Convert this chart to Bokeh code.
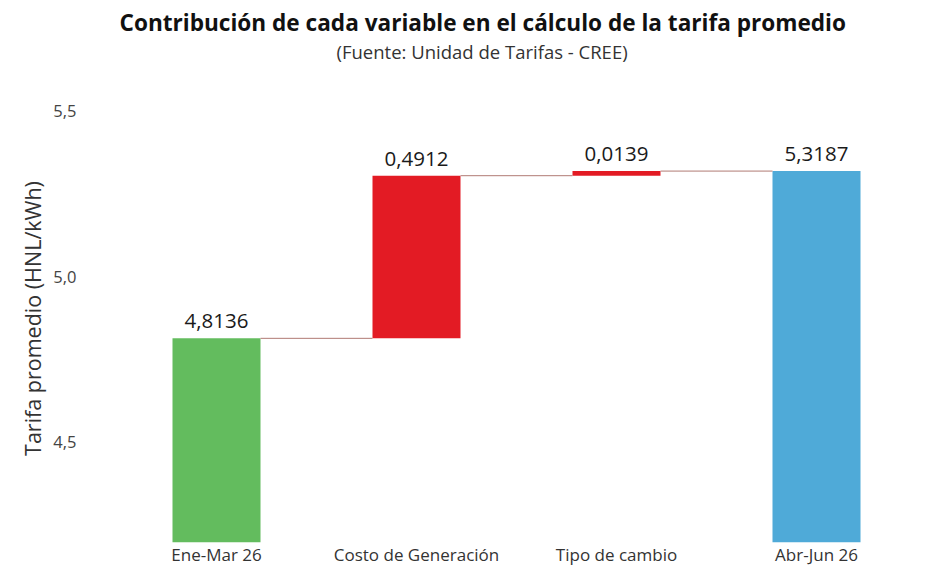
from bokeh.plotting import figure
from bokeh.models import ColumnDataSource, FixedTicker, Title
from bokeh.transform import dodge
from bokeh.embed import file_html
from bokeh.resources import INLINE

# ---- data ----
categories = ["Ene-Mar 26", "Costo de Generación", "Tipo de cambio", "Abr-Jun 26"]
values = [4.8136, 0.4912, 0.0139, 5.3187]
kinds = ["total", "delta", "delta", "total"]
value_labels = ["4,8136", "0,4912", "0,0139", "5,3187"]
colors = ["#63bc5e", "#e31b24", "#e31b24", "#4faad8"]
y_ticks = [4.5, 5.0, 5.5]
y_tick_labels = ["4,5", "5,0", "5,5"]
y_start, y_end = 4.197, 5.55

# ---- waterfall geometry from data ----
bottoms, tops = [], []
running = 0.0
for v, k in zip(values, kinds):
    if k == "total":
        bottoms.append(y_start)
        tops.append(v)
        running = v
    else:
        bottoms.append(running)
        running = running + v
        tops.append(running)

src = ColumnDataSource(dict(cat=categories, bottom=bottoms, top=tops,
                            color=colors, label=value_labels))
conn = ColumnDataSource(dict(a=categories[:-1], b=categories[1:],
                             y=[tops[i] for i in range(len(categories) - 1)]))

FONT = "Open Sans"
p = figure(x_range=categories, y_range=(y_start, y_end), width=940, height=576,
           output_backend="svg", toolbar_location=None, min_border=0,
           min_border_left=116, min_border_right=24, min_border_bottom=34, min_border_top=0)
p.x_range.range_padding = 0

bar_w = 0.44
p.vbar(x="cat", bottom="bottom", top="top", width=bar_w, color="color",
       line_color=None, source=src)
p.segment(x0=dodge("a", bar_w / 2, range=p.x_range), x1=dodge("b", -bar_w / 2, range=p.x_range),
          y0="y", y1="y", line_color="#b07a74", line_width=1, source=conn)
p.text(x="cat", y="top", text="label", source=src, text_align="center",
       text_baseline="bottom", y_offset=-10, text_font_size="20.5px",
       text_color="#1a1a1a", text_font={"value": FONT})

# titles (first added is closest to the plot)
p.add_layout(Title(text=" ", text_font=FONT, text_font_size="1px", standoff=32), "above")
p.add_layout(Title(text="(Fuente: Unidad de Tarifas - CREE)", align="left", offset=220,
                   text_font=FONT, text_font_size="18.5px", text_font_style="normal",
                   text_color="#333333", standoff=-9), "above")
p.add_layout(Title(text="Contribución de cada variable en el cálculo de la tarifa promedio",
                   align="left", offset=3, text_font=FONT, text_font_size="22.6px",
                   text_font_style="bold", text_color="#111111", standoff=8), "above")

# axes
p.xgrid.grid_line_color = None
p.ygrid.grid_line_color = None
p.outline_line_color = None
p.background_fill_color = "white"
p.border_fill_color = "white"

p.yaxis.ticker = FixedTicker(ticks=y_ticks)
p.yaxis.major_label_overrides = {t: l for t, l in zip(y_ticks, y_tick_labels)}
p.yaxis.axis_line_color = None
p.yaxis.major_tick_line_color = None
p.yaxis.minor_tick_line_color = None
p.yaxis.major_tick_out = 0
p.yaxis.major_tick_in = 0
p.yaxis.minor_tick_out = 0
p.yaxis.major_label_standoff = 40
p.yaxis.major_label_text_font = FONT
p.yaxis.major_label_text_font_size = "16.5px"
p.yaxis.major_label_text_color = "#444444"
p.yaxis.axis_label = "Tarifa promedio (HNL/kWh)"
p.yaxis.axis_label_text_font = FONT
p.yaxis.axis_label_text_font_size = "21.5px"
p.yaxis.axis_label_text_font_style = "normal"
p.yaxis.axis_label_text_color = "#333333"
p.yaxis.axis_label_standoff = 3

p.xaxis.axis_line_color = None
p.xaxis.major_tick_line_color = None
p.xaxis.minor_tick_line_color = None
p.xaxis.major_tick_out = 0
p.xaxis.major_tick_in = 0
p.xaxis.minor_tick_out = 0
p.xaxis.major_label_standoff = 0
p.xaxis.major_label_text_font = FONT
p.xaxis.major_label_text_font_size = "17px"
p.xaxis.major_label_text_color = "#333333"

open("out.html", "w").write(file_html(p, INLINE))
